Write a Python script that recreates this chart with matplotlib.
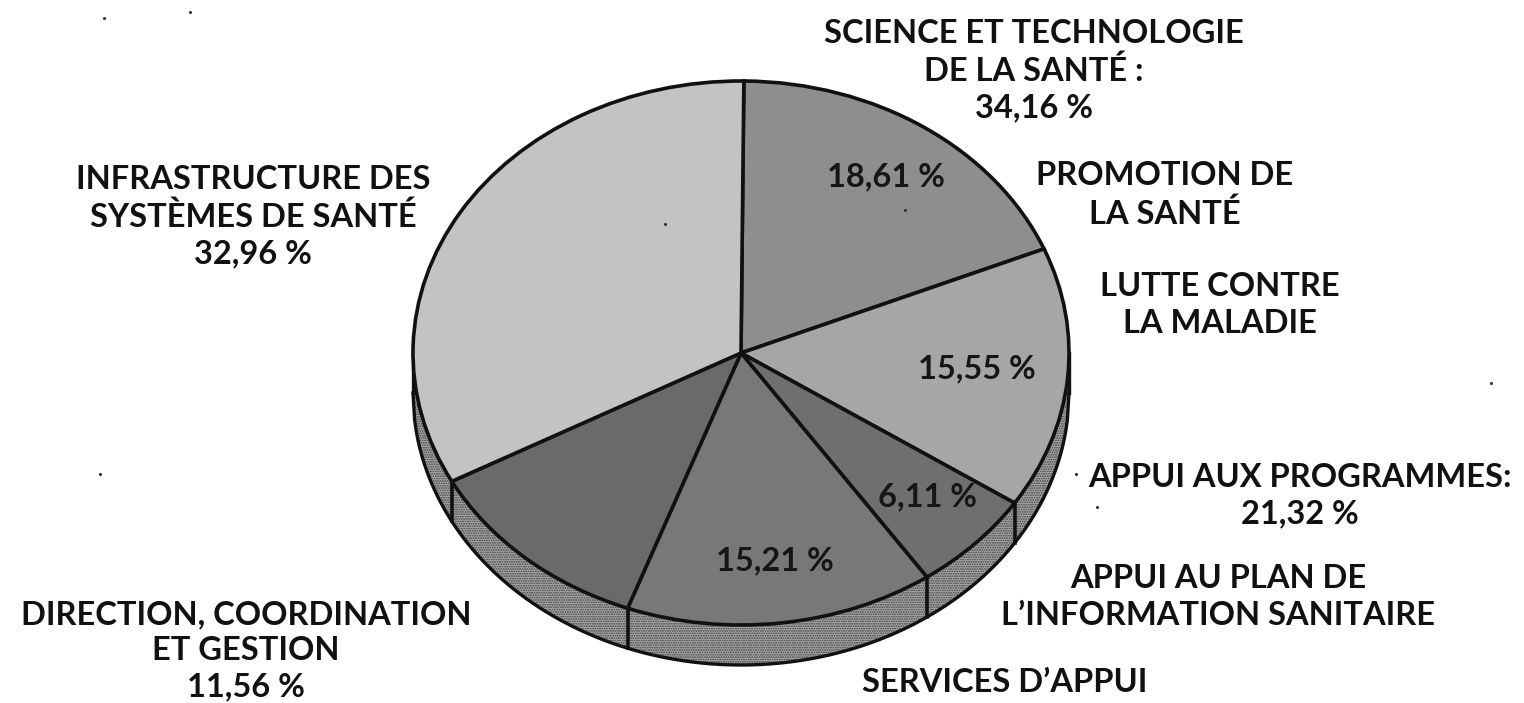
import numpy as np
import matplotlib
matplotlib.use('Agg')
import matplotlib.pyplot as plt

plt.rcParams['font.family'] = ['Lato', 'Liberation Sans', 'DejaVu Sans']
plt.rcParams['hatch.linewidth'] = 0.9

W, H = 1524, 703
CX, CY = 741, 353
RX, RY = 328, 272
DEPTH = 40
START = 89.5

# clockwise from the top
slices = [18.61, 15.55, 6.11, 15.21, 11.56, 32.96]
slice_names = ['Promotion', 'Lutte', 'Information', 'Services', 'Direction', 'Infrastructure']
slice_colors = ['#8e8e8e', '#a6a6a6', '#6f6f6f', '#787878', '#6a6a6a', '#c3c3c3']

inner_labels = ['18,61 %', '15,55 %', '6,11 %', '15,21 %']
inner_pos = [(886, 177), (977, 369), (928, 497), (775, 561)]

labels = [
    ('SCIENCE ET TECHNOLOGIE\nDE LA SANTÉ :\n34,16 %', 1034, 71),
    ('PROMOTION DE\nLA SANTÉ', 1165, 195),
    ('LUTTE CONTRE\nLA MALADIE', 1220, 305),
    ('APPUI AUX PROGRAMMES:\n21,32 %', 1300, 496),
    ('APPUI AU PLAN DE\nL’INFORMATION SANITAIRE', 1218, 597),
    ('SERVICES D’APPUI', 1005, 682),
    ('DIRECTION, COORDINATION\nET GESTION\n11,56 %', 246, 651),
    ('INFRASTRUCTURE DES\nSYSTÈMES DE SANTÉ\n32,96 %', 253, 217),
]
specks = [(104, 18), (190, 12), (100, 474), (1491, 383), (1076, 474), (1097, 507), (665, 224), (905, 210)]

fig = plt.figure(figsize=(W / 100, H / 100), dpi=100, facecolor='white')

# pie axes: one data unit is RX pixels across and RY pixels down
y_low = -1.25
x0, x1 = (CX - RX * 1.1), (CX + RX * 1.1)
y1 = CY - RY * 1.1
y0 = CY - RY * y_low
ax = fig.add_axes([x0 / W, 1 - y0 / H, (x1 - x0) / W, (y0 - y1) / H])
d = DEPTH / RY

# the wall under the disc
t = np.linspace(-1, 1, 400)
rim = np.sqrt(1 - t ** 2)
ax.fill_between(t, -rim, -rim - d, facecolor='#acacac', edgecolor='#3c3c3c', hatch='.......', linewidth=0, zorder=1)
ax.plot(t, -rim - d, color='#111111', lw=2.4, zorder=2)
ax.plot([-1, -1], [0, -d], color='#111111', lw=2.4, zorder=2)
ax.plot([1, 1], [0, -d], color='#111111', lw=2.4, zorder=2)

ax.pie(slices, colors=slice_colors, startangle=START, counterclock=False, radius=1,
       wedgeprops=dict(edgecolor='#111111', linewidth=2.6, zorder=3), frame=False)
ax.set_aspect('auto')
ax.set_xlim(-1.1, 1.1)
ax.set_ylim(y_low, 1.1)
ax.axis('off')

# wall edges where the slice borders reach the front
ang = np.radians(START) - 2 * np.pi * np.cumsum(slices) / sum(slices)
for a in ang:
    if np.sin(a) < 0:
        ax.plot([np.cos(a)] * 2, [np.sin(a), np.sin(a) - d], color='#111111', lw=2.6, zorder=2)

# text layer in pixels
over = fig.add_axes([0, 0, 1, 1])
over.set_xlim(0, W)
over.set_ylim(H, 0)
over.axis('off')
for text, x, y in labels:
    over.text(x, y, text, ha='center', va='center', fontsize=23.5, fontweight='bold',
              color='#111111', linespacing=1.3)
for text, (x, y) in zip(inner_labels, inner_pos):
    over.text(x, y, text, ha='center', va='center', fontsize=23.5, fontweight='bold', color='#161616')
over.scatter([s[0] for s in specks], [s[1] for s in specks], s=5, color='#333333', linewidths=0)

fig.savefig('out.png', dpi=100)
